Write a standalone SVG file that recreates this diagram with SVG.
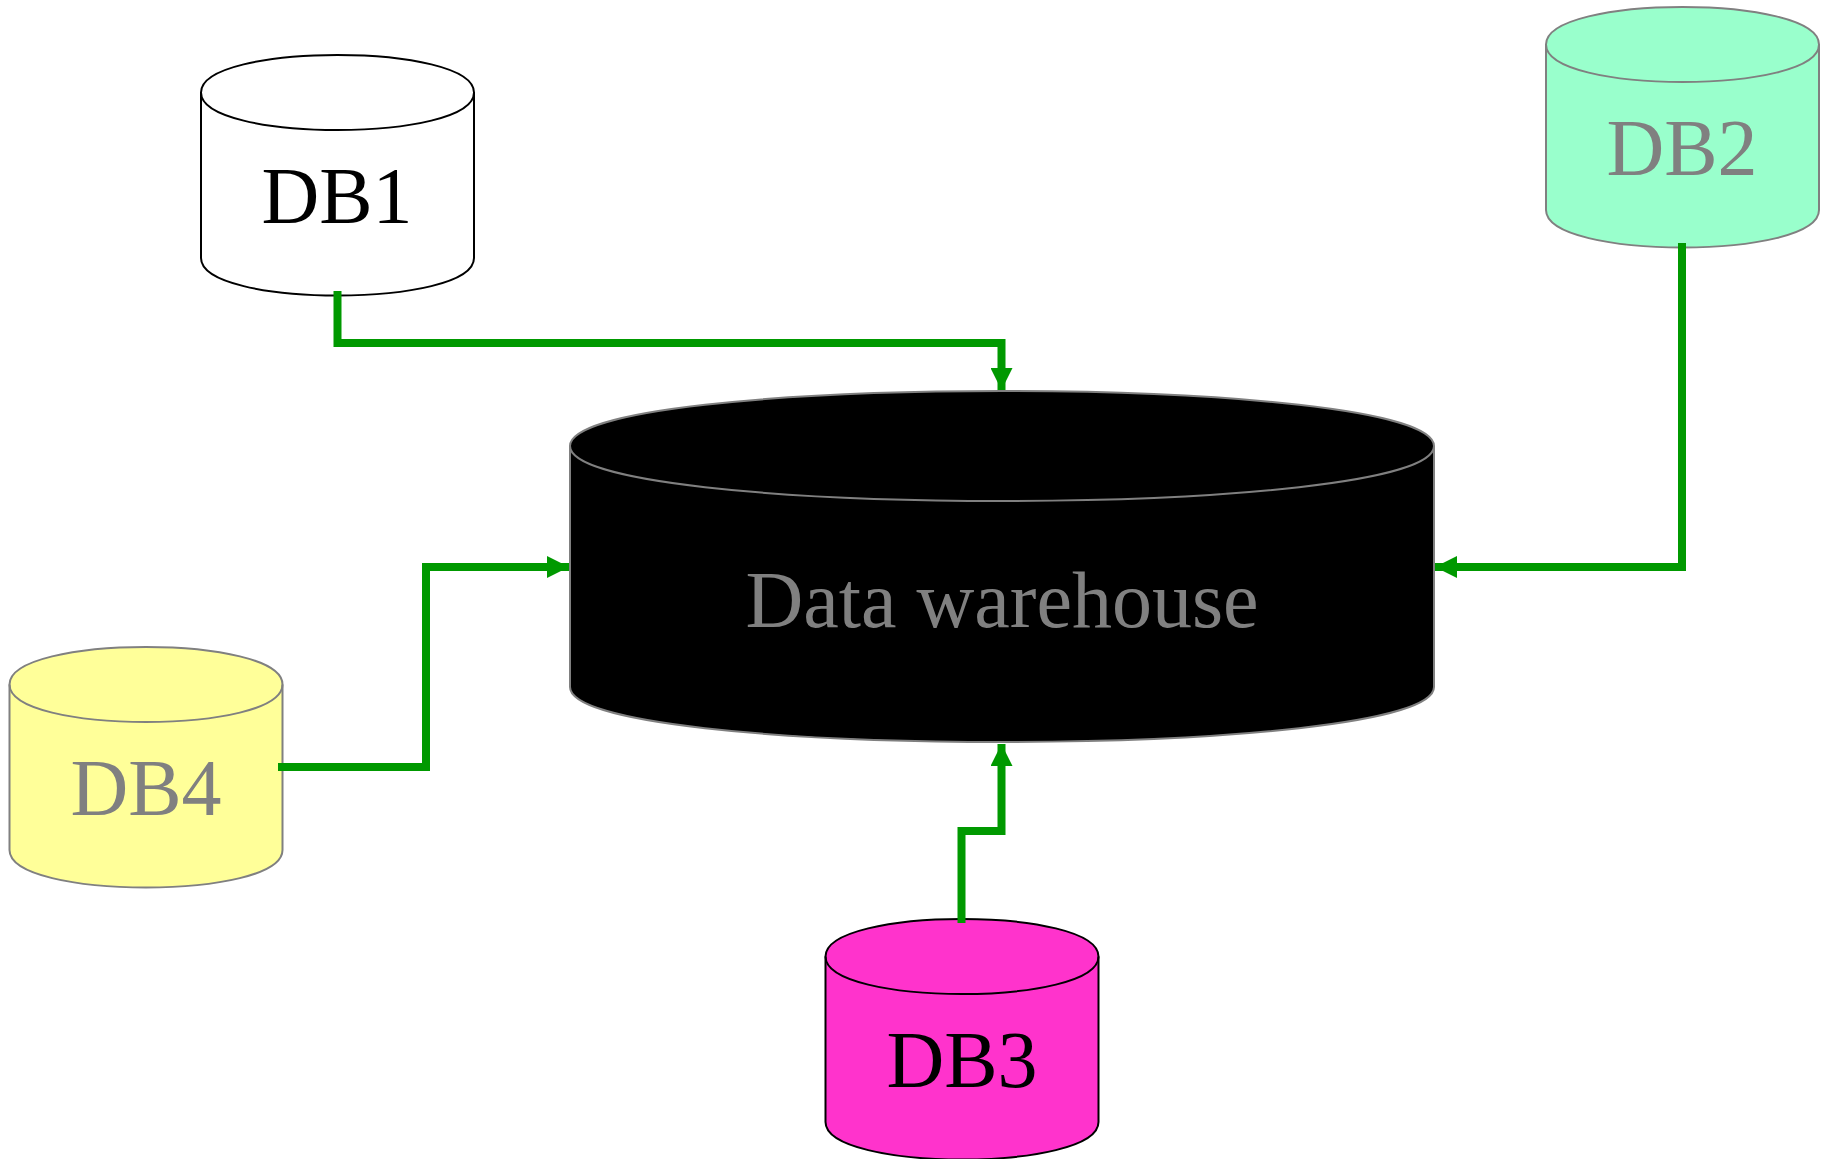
<svg xmlns="http://www.w3.org/2000/svg" width="1825" height="1159" viewBox="0 0 1825 1159">
<style>
.body{stroke-width:2;stroke-linejoin:round}
.lid{fill:none;stroke-width:2}
.dark{stroke:#000}
.grey{stroke:#808080}
text{font-family:"Liberation Serif","Times New Roman",serif;font-size:80px;text-anchor:middle}
.tb{fill:#000}
.tg{fill:#808080}
.conn{fill:none;stroke:#009900;stroke-width:8;stroke-linejoin:miter}
</style>
<defs>
<marker id="arrow" markerUnits="userSpaceOnUse" viewBox="0 0 22 22" refX="22" refY="11" markerWidth="22" markerHeight="22" orient="auto"><path d="M0 0L22 11L0 22Z" fill="#009900"/></marker>
<g id="cyl"><path class="body" d="M0 37.5C0-12.5 273-12.5 273 37.5V203C273 253 0 253 0 203Z"/><path class="lid" d="M0 37.5C0 87.5 273 87.5 273 37.5"/></g>
</defs>
<rect width="1825" height="1159" fill="#fff"/>
<g id="warehouse"><path class="body grey" fill="#000" d="M570 446C570 372.700 1434 372.700 1434 446V687C1434 760.300 570 760.300 570 687Z"/><path class="lid grey" d="M570 446C570 519.300 1434 519.300 1434 446"/><text class="tg" x="1002" y="627">Data warehouse</text></g>
<g id="db1"><use href="#cyl" x="201" y="55" fill="#fff" class="dark" stroke="#000"/><text class="tb" x="337" y="223">DB1</text></g>
<g id="db2"><use href="#cyl" x="1546" y="7" fill="#99ffcc" stroke="#808080"/><text class="tg" x="1682" y="175">DB2</text></g>
<g id="db3"><use href="#cyl" x="825.500" y="919" fill="#ff33cc" stroke="#000"/><text class="tb" x="962" y="1087">DB3</text></g>
<g id="db4"><use href="#cyl" x="9.500" y="647" fill="#ffff99" stroke="#808080"/><text class="tg" x="146" y="815">DB4</text></g>
<g id="connectors">
<path class="conn" marker-end="url(#arrow)" d="M337.500 291V343H1001.500V390"/>
<path class="conn" marker-end="url(#arrow)" d="M1682 243V567H1435"/>
<path class="conn" marker-end="url(#arrow)" d="M961.500 923V831H1001.500V744"/>
<path class="conn" marker-end="url(#arrow)" d="M278 767H426V567H569"/>
</g>
</svg>
